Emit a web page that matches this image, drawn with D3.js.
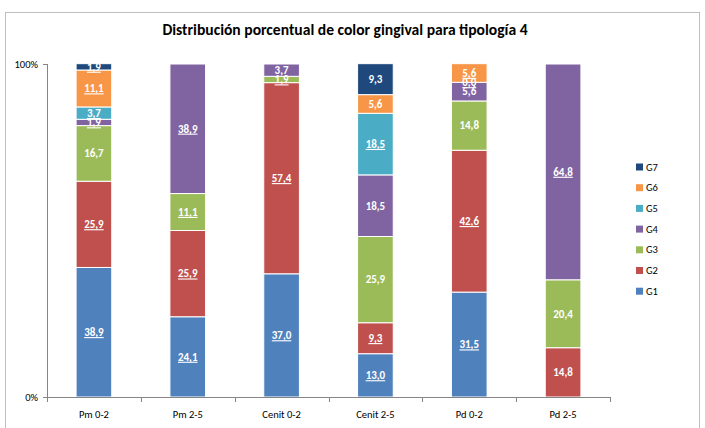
<!DOCTYPE html>
<html><head><meta charset="utf-8">
<script src="https://cdn.jsdelivr.net/npm/d3@7/dist/d3.min.js"></script>
<style>body{margin:0;background:#fff}svg{display:block}</style>
</head><body>
<script>
const categories = ["Pm 0-2","Pm 2-5","Cenit 0-2","Cenit 2-5","Pd 0-2","Pd 2-5"];
const seriesNames = ["G1","G2","G3","G4","G5","G6","G7"];
const G1 = [38.9, 24.1, 37.0, 13.0, 31.5, null];
const G2 = [25.9, 25.9, 57.4, 9.3, 42.6, 14.8];
const G3 = [16.7, 11.1, 1.9, 25.9, 14.8, 20.4];
const G4 = [1.9, 38.9, 3.7, 18.5, 5.6, 64.8];
const G5 = [3.7, null, null, 18.5, 0.0, null];
const G6 = [11.1, null, null, 5.6, 5.6, null];
const G7 = [1.9, null, null, 9.3, null, null];
const underlined = [
  [1,1,1,1,1,0],
  [1,1,1,1,1,0],
  [0,1,1,0,0,0],
  [1,1,0,0,0,1],
  [1,0,0,1,1,0],
  [1,0,0,0,1,0],
  [1,0,0,0,0,0]
];
const yTicks = [0, 100];
const colors = ["#4f81bd","#c0504d","#9bbb59","#8064a2","#4bacc6","#f79646","#1f497d"];
const values = [G1,G2,G3,G4,G5,G6,G7];

const W = 705, H = 428;
const font = "Carlito, Lato, 'Open Sans', sans-serif";
const svg = d3.select("body").append("svg").attr("width", W).attr("height", H);
svg.append("rect").attr("x",5.5).attr("y",12.5).attr("width",694).attr("height",440)
  .attr("fill","#fff").attr("stroke","#bfbfbf").attr("stroke-width",1);

svg.append("text").attr("x",345).attr("y",35).attr("text-anchor","middle")
  .attr("font-family",font).attr("font-weight","bold").attr("font-size",15.6)
  .attr("fill","#000").text("Distribución porcentual de color gingival para tipología 4");

const x = d3.scaleBand().domain(categories).range([47,610]).paddingInner(0.62).paddingOuter(0.31);
const y = d3.scaleLinear().domain([0,100]).range([397,64]);

const rows = categories.map((c,i)=>{const o={cat:c}; seriesNames.forEach((s,j)=>o[s]=values[j][i]||0); return o;});
const stack = d3.stack().keys(seriesNames)(rows);

const g = svg.append("g");
stack.forEach((layer,j)=>{
  layer.forEach((d,i)=>{
    const v = values[j][i];
    if (v === null) return;
    const y0 = y(d[0]), y1 = y(d[1]);
    if (v > 0) {
      g.append("rect").attr("x",x(categories[i])).attr("width",x.bandwidth())
        .attr("y",y1).attr("height",Math.max(0,y0-y1))
        .attr("fill",colors[j]).attr("stroke","#fff").attr("stroke-width",1);
    }
  });
});
stack.forEach((layer,j)=>{
  layer.forEach((d,i)=>{
    const v = values[j][i];
    if (v === null) return;
    const cy = (y(d[0])+y(d[1]))/2;
    const t = g.append("text").attr("x",x(categories[i])+x.bandwidth()/2).attr("y",cy)
      .attr("dy","0.35em").attr("text-anchor","middle")
      .attr("font-family",font).attr("font-weight","bold").attr("font-size",11)
      .attr("fill","#fff").text(d3.format(".1f")(v).replace(".",","));
    if (underlined[j][i]) t.attr("text-decoration","underline");
  });
});

const axisColor = "#868686";
svg.append("line").attr("x1",47.5).attr("x2",47.5).attr("y1",64).attr("y2",397).attr("stroke",axisColor);
yTicks.forEach(t=>{
  svg.append("line").attr("x1",43).attr("x2",47.5).attr("y1",Math.round(y(t))+0.5).attr("y2",Math.round(y(t))+0.5).attr("stroke",axisColor);
  svg.append("text").attr("x",38).attr("y",y(t)).attr("dy","0.35em").attr("text-anchor","end")
    .attr("font-family",font).attr("font-size",10.5).attr("fill","#000").text(t+"%");
});
svg.append("line").attr("x1",47).attr("x2",610).attr("y1",397.5).attr("y2",397.5).attr("stroke",axisColor);
for (let i=0;i<=categories.length;i++){
  const bx = Math.round(47 + i*(563/categories.length))+0.5;
  svg.append("line").attr("x1",bx).attr("x2",bx).attr("y1",397).attr("y2",402).attr("stroke",axisColor);
}
categories.forEach(c=>{
  svg.append("text").attr("x",x(c)+x.bandwidth()/2).attr("y",414).attr("dy","0.35em")
    .attr("text-anchor","middle").attr("font-family",font).attr("font-size",10.5).attr("fill","#000").text(c);
});

const legendNames = seriesNames.slice().reverse();
legendNames.forEach((s,k)=>{
  const j = seriesNames.indexOf(s);
  const ly = 167 + k*20.7;
  svg.append("rect").attr("x",636).attr("y",ly-3.5).attr("width",7).attr("height",7).attr("fill",colors[j]);
  svg.append("text").attr("x",646).attr("y",ly).attr("dy","0.35em").attr("font-family",font)
    .attr("font-size",10.5).attr("fill","#000").text(s);
});
</script>
</body></html>
